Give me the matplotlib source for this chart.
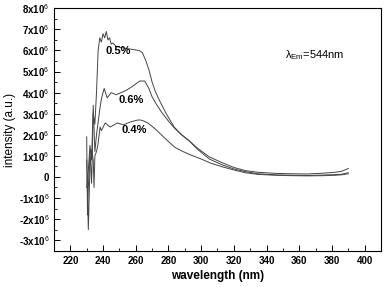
import matplotlib
matplotlib.use('Agg')
import matplotlib.pyplot as plt
from matplotlib.ticker import MultipleLocator, FuncFormatter

plt.rcParams['font.family'] = ['Liberation Sans', 'DejaVu Sans']
plt.rcParams['mathtext.fontset'] = 'custom'
plt.rcParams['mathtext.rm'] = 'Liberation Sans'
plt.rcParams['mathtext.it'] = 'Liberation Sans'
plt.rcParams['mathtext.bf'] = 'Liberation Sans:bold'

# excitation spectra, intensity in units of 1e6
wl_05 = [230, 230.5, 231, 232, 233, 234, 235, 236, 237, 238, 239, 240, 241, 242,
         243, 244, 245, 246, 248, 250, 254, 258, 262, 264, 266, 268, 270, 272,
         275, 279, 283.5, 288, 292, 298, 305, 313, 320, 327, 335, 345, 355,
         365, 375, 382, 386, 390]
I_05 = [1.9, -1.8, -0.5, 1.2, -0.3, 3.0, 2.5, 4.0, 6.0, 6.6, 6.4, 6.8, 6.6, 6.9,
        6.5, 6.6, 6.3, 6.35, 6.2, 6.15, 6.1, 6.05, 6.0, 5.9, 5.55, 5.1, 4.5, 4.05,
        3.55, 2.95, 2.37, 2.0, 1.76, 1.35, 0.95, 0.67, 0.45, 0.3, 0.22, 0.17, 0.15,
        0.14, 0.18, 0.22, 0.27, 0.4]

wl_06 = [230, 231, 232, 233, 234, 235, 236, 237, 238, 239, 240.7, 242.5, 245,
         248, 251, 254, 257.5, 262.5, 265.5, 268, 270, 273, 276, 280, 283.5, 288,
         292, 298, 305, 313, 320, 327, 335, 345, 355, 365, 375, 382, 386, 390]
I_06 = [-0.5, 0.3, 1.5, 0.8, 3.4, 1.2, 2.0, 2.6, 3.2, 3.7, 4.2, 3.75, 4.0,
        3.9, 4.0, 4.1, 4.27, 4.55, 4.55, 4.2, 3.8, 3.4, 3.05, 2.65, 2.33, 2.0,
        1.76, 1.3, 0.85, 0.57, 0.38, 0.25, 0.15, 0.1, 0.08, 0.07, 0.09, 0.11,
        0.13, 0.2]

wl_04 = [230, 231, 232, 233, 234, 234.5, 235, 236, 237, 238.2, 239, 241.3,
         244.4, 248.8, 252.5, 256.8, 261.2, 263, 265, 267.4, 270, 273, 276, 280,
         284, 289, 294, 300, 306, 313, 320, 327, 335, 345, 355, 365, 375, 382,
         386, 390]
I_04 = [0.8, -2.5, 0.5, 1.3, 0.8, -0.5, 1.0, 1.2, 1.6, 2.37, 2.2, 2.56,
        2.37, 2.56, 2.47, 2.61, 2.7, 2.7, 2.65, 2.56, 2.4, 2.2, 1.97, 1.68,
        1.4, 1.2, 1.03, 0.85, 0.65, 0.48, 0.33, 0.2, 0.12, 0.08, 0.06, 0.05,
        0.06, 0.08, 0.1, 0.15]

fig = plt.figure(figsize=(3.87, 2.87), dpi=100)
ax = fig.add_axes([0.1395, 0.1265, 0.845, 0.8445])

for wl, I in [(wl_05, I_05), (wl_06, I_06), (wl_04, I_04)]:
    ax.plot(wl, [v * 1e6 for v in I], color='#444444', linewidth=0.7)

ax.text(249, 5.97e6, '0.5%', fontsize=8, fontweight='bold', ha='center', va='center')
ax.text(257, 3.66e6, '0.6%', fontsize=8, fontweight='bold', ha='center', va='center')
ax.text(259, 2.23e6, '0.4%', fontsize=8, fontweight='bold', ha='center', va='center')
ax.text(351, 5.8e6, r'$\lambda_{\mathrm{Em}}$=544nm', fontsize=8, ha='left', va='center')

ax.set_xlim(210, 410)
ax.set_ylim(-3.5e6, 8e6)
ax.xaxis.set_major_locator(MultipleLocator(20))
ax.xaxis.set_minor_locator(MultipleLocator(10))
ax.yaxis.set_major_locator(MultipleLocator(1e6))
ax.yaxis.set_minor_locator(MultipleLocator(0.5e6))


def yfmt(v, pos):
    n = int(round(v / 1e6))
    if n == 0:
        return '0'
    return r'%dx10$^{6}$' % n


ax.yaxis.set_major_formatter(FuncFormatter(yfmt))
ax.tick_params(which='both', direction='in', labelsize=7)
ax.tick_params(which='major', length=4, width=0.7)
ax.tick_params(which='minor', length=2, width=0.6)
for lab in ax.get_xticklabels() + ax.get_yticklabels():
    lab.set_fontweight('bold')
for sp in ax.spines.values():
    sp.set_linewidth(0.8)

ax.set_xlabel('wavelength (nm)', fontsize=8.5, fontweight='bold', labelpad=3)
ax.set_ylabel('intensity (a.u.)', fontsize=8.5, labelpad=2)

fig.savefig('out.png', dpi=100)
